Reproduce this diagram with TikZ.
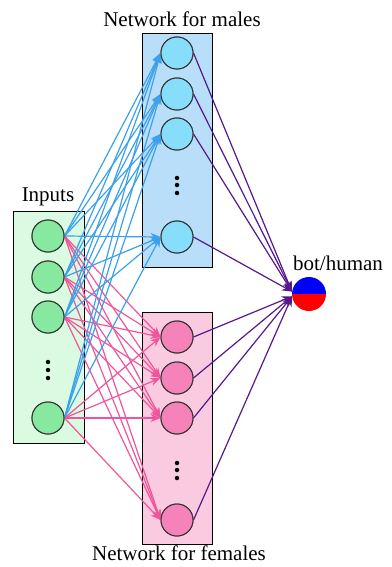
\documentclass[tikz,border=0pt]{standalone}
\usepackage{fontspec}
\setmainfont{Liberation Serif}
\usetikzlibrary{arrows.meta}
\definecolor{ingreen}{RGB}{135,232,160}
\definecolor{inbox}{RGB}{218,250,225}
\definecolor{mblue}{RGB}{135,222,250}
\definecolor{mbox}{RGB}{185,222,250}
\definecolor{fpink}{RGB}{245,130,185}
\definecolor{fbox}{RGB}{250,202,225}
\definecolor{ablue}{RGB}{60,160,235}
\definecolor{apink}{RGB}{240,85,155}
\definecolor{apurple}{RGB}{85,25,140}
\definecolor{cborder}{RGB}{50,50,50}
\begin{document}
\begin{tikzpicture}[x=1pt,y=-1pt,
  lbl/.style={font=\fontsize{21}{24}\selectfont, inner sep=0pt},
  boxn/.style={draw=black, line width=0.8pt, inner sep=0pt},
  neuron/.style={circle, draw=cborder, line width=1pt, minimum size=32pt, inner sep=0pt},
  arr/.style={line width=1.2pt, -{Stealth[length=10pt,width=8pt]}},
  dotc/.style={circle, fill=black, inner sep=0pt, minimum size=4.5pt}
]
\useasboundingbox (0,0) rectangle (391,567);
% boxes
\node[boxn, fill=inbox, minimum width=71pt, minimum height=232pt] (ib) at (48.5,327) {};
\node[boxn, fill=mbox, minimum width=70pt, minimum height=234pt] (mb) at (177,150) {};
\node[boxn, fill=fbox, minimum width=70pt, minimum height=232pt] (fb) at (177,428) {};
% labels
\node[lbl] (linp) at (48,197) {Inputs};
\node[lbl] (lmal) at (182,19) {Network for males};
\node[lbl] (lfem) at (179,553) {Network for females};
\node[lbl] (lout) at (338,263) {bot/human};
% neuron coordinates
\coordinate (pi1) at (48,236); \coordinate (pi2) at (48,277);
\coordinate (pi3) at (48,317); \coordinate (pi4) at (48,418);
\coordinate (pm1) at (177,53); \coordinate (pm2) at (177,94);
\coordinate (pm3) at (177,134); \coordinate (pm4) at (177,237);
\coordinate (pf1) at (177,337); \coordinate (pf2) at (177,378);
\coordinate (pf3) at (177,418); \coordinate (pf4) at (177,520);
\foreach \k in {1,2,3,4} {
  \node[neuron, fill=ingreen] (i\k) at (pi\k) {};
  \node[neuron, fill=mblue] (m\k) at (pm\k) {};
  \node[neuron, fill=fpink] (f\k) at (pf\k) {};
}
% output node
\node[circle, minimum size=34pt, inner sep=0pt,
  path picture={
    \fill[blue] (path picture bounding box.north west) rectangle (path picture bounding box.east);
    \fill[red] (path picture bounding box.west) rectangle (path picture bounding box.south east);
  }] (out) at (309,294) {};
% arrows
\foreach \a in {1,2,3,4} {
  \foreach \b in {1,2,3,4} {
    \draw[arr, ablue] (i\a.east) -- (m\b.west);
    \draw[arr, apink] (i\a.east) -- (f\b.west);
  }
  \draw[arr, apurple] (m\a.east) -- (out.172);
  \draw[arr, apurple] (f\a.east) -- (out.188);
}
% redraw neurons on top
\foreach \k in {1,2,3,4} {
  \node[neuron, fill=ingreen] at (pi\k) {};
  \node[neuron, fill=mblue] at (pm\k) {};
  \node[neuron, fill=fpink] at (pf\k) {};
}
% dots
\foreach \y in {362,370,378} {
  \node[dotc] at (48,\y) {};
}
\foreach \y in {178,185,193} {
  \node[dotc] at (177,\y) {};
}
\foreach \y in {463,470,478} {
  \node[dotc] at (177,\y) {};
}
\end{tikzpicture}
\end{document}
